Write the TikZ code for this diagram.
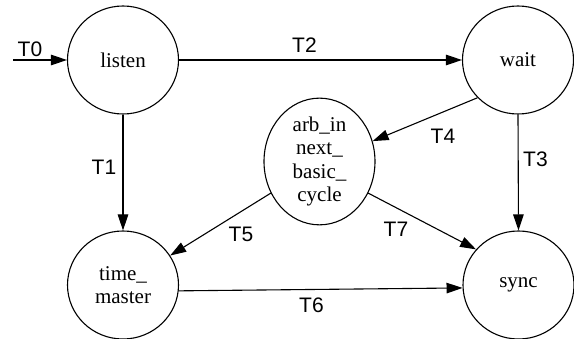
\documentclass[tikz,border=0pt]{standalone}
\usepackage{fontspec}
\setmainfont{Liberation Serif}
\newfontfamily\labelfont{Liberation Sans}
\usetikzlibrary{arrows.meta,shapes.geometric}
\tikzset{
  state/.style={draw, line width=1.1pt, ellipse, minimum width=111pt, minimum height=108pt,
    inner sep=0pt, align=center, font=\fontsize{21}{23.5}\selectfont},
  trans/.style={line width=1.1pt, -{Triangle[length=16pt,width=10.5pt]}},
  tlabel/.style={font=\labelfont\fontsize{21}{23}\selectfont, inner sep=0pt}
}
\begin{document}
\begin{tikzpicture}[x=1pt,y=-1pt]
  \useasboundingbox (0,0) rectangle (574,339);
  % states
  \node[state] (listen) at (123,60) {listen};
  \node[state] (wait) at (518,60) {wait};
  \node[state] (arb) at (319.5,161.5) {arb\_in\\next\_\\basic\_\\cycle};
  \node[state] (tm) at (123,285) {time\_\\master};
  \node[state] (sync) at (518.5,285) {sync};
  \coordinate (init) at (13,60);
  % transitions
  \draw[trans] (init) -- (listen.west);
  \draw[trans] (listen.east) -- (wait.west);
  \draw[trans] (listen.south) -- (tm.north);
  \draw[trans] (wait.south) -- (sync.north);
  \draw[trans] (wait.223) -- (arb.21);
  \draw[trans] (arb.213) -- (tm.32);
  \draw[trans] (arb.-33) -- (sync.140);
  \draw[trans] (tm.-6) -- (sync.183);
  % transition labels
  \node[tlabel] (l0) at (30,49) {T0};
  \node[tlabel] (l2) at (304.5,45.5) {T2};
  \node[tlabel] (l1) at (104,167.5) {T1};
  \node[tlabel] (l3) at (535.5,159) {T3};
  \node[tlabel] (l4) at (443,136) {T4};
  \node[tlabel] (l5) at (241,234.5) {T5};
  \node[tlabel] (l7) at (396,229) {T7};
  \node[tlabel] (l6) at (311.5,305.5) {T6};
\end{tikzpicture}
\end{document}
